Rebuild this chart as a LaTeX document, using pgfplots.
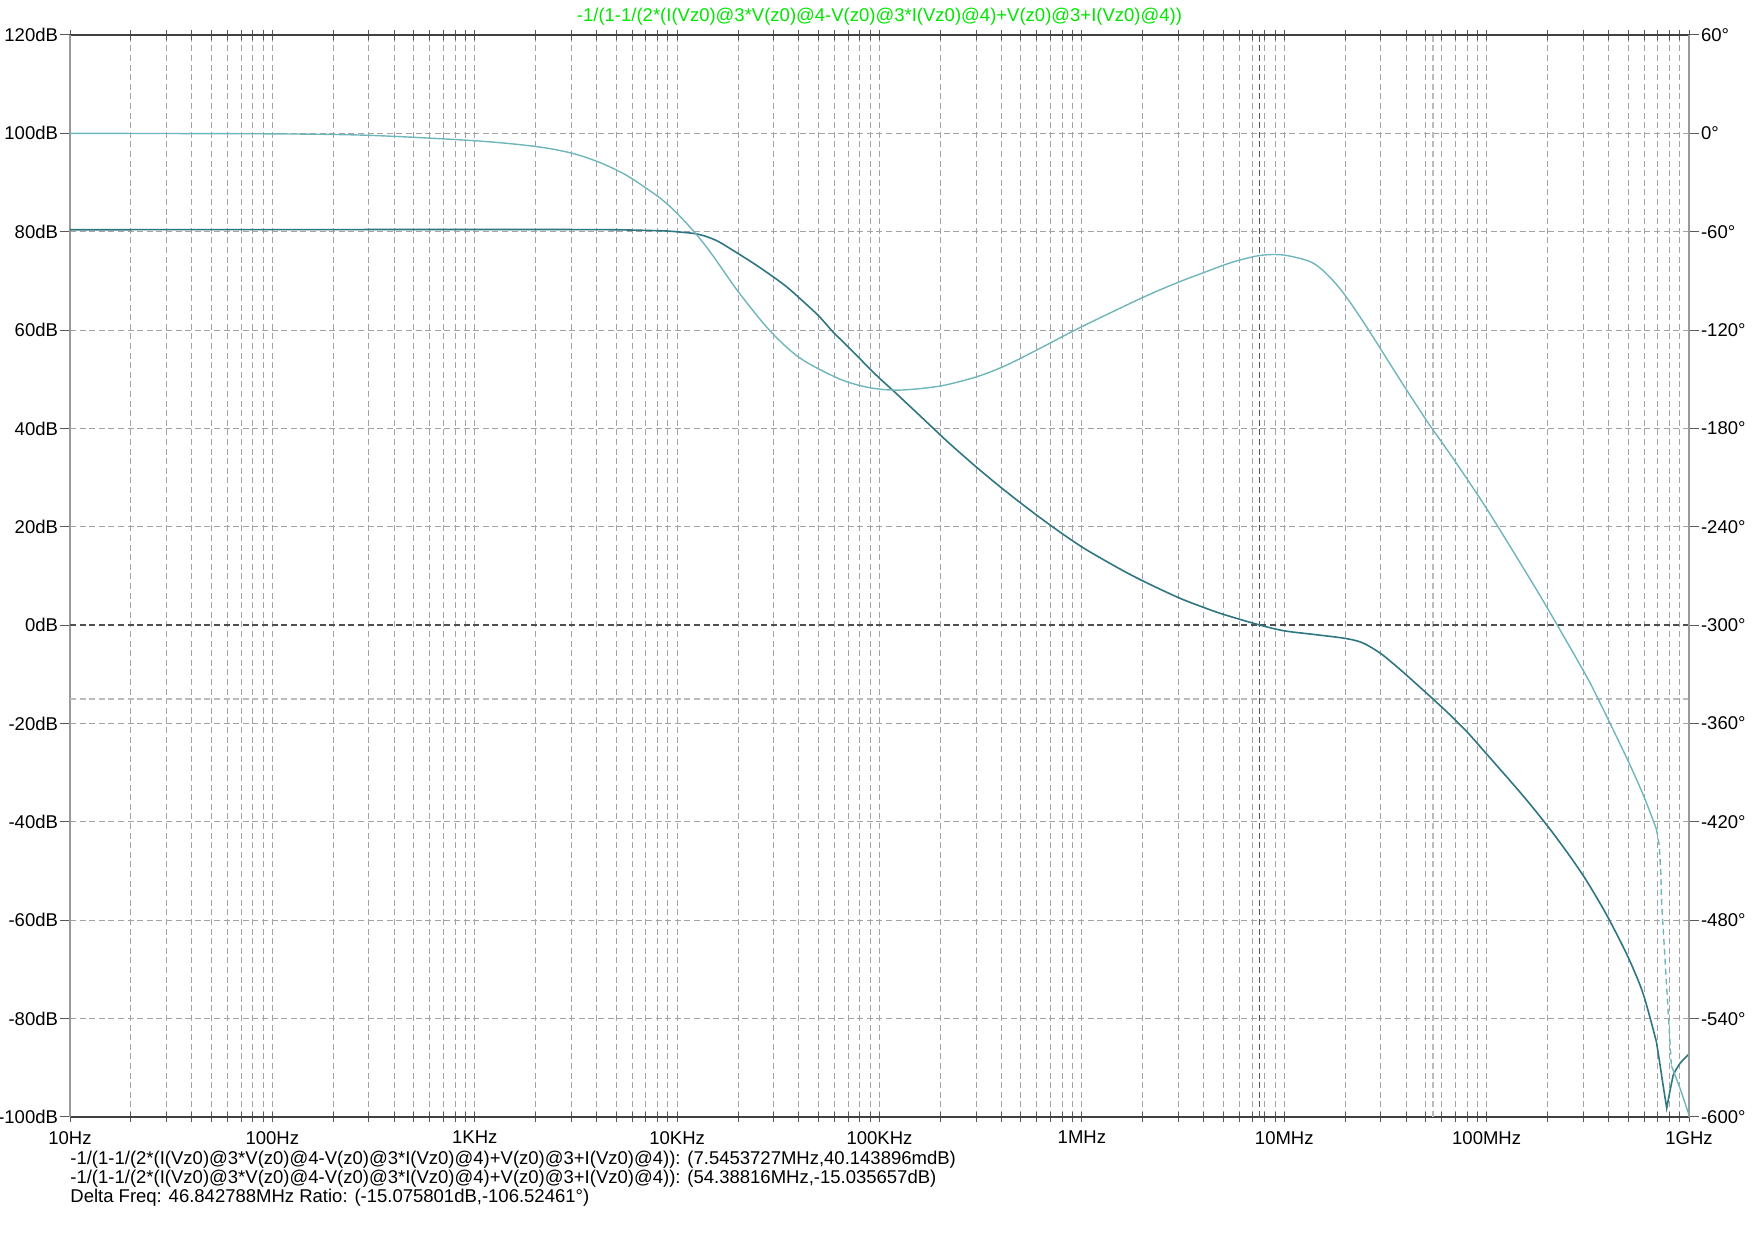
\documentclass[border=0pt]{standalone}
\usepackage{pgfplots}
\pgfplotsset{compat=1.18}
\usepackage{fontspec}
\setmainfont{Liberation Sans}

\definecolor{magcol}{HTML}{2F7681}
\definecolor{phcol}{HTML}{6FB6BB}
\definecolor{titlegreen}{HTML}{00E600}
\definecolor{gridgray}{HTML}{A4A4A4}
\definecolor{cur1}{HTML}{505050}
\definecolor{cur2}{HTML}{BBBBBB}

\begin{document}
\begin{tikzpicture}[font=\fontsize{9.25}{10}\selectfont]
\begin{axis}[
  name=mag,
  scale only axis, width=809.5pt, height=541pt,
  xmode=log, xmin=10, xmax=1e9,
  ymin=-100, ymax=120,
  separate axis lines,
  tick align=center,
  tick style={draw=black!65, line width=0.5pt},
  major tick length=5pt, minor tick length=5pt,
  xtick={1e1,1e2,1e3,1e4,1e5,1e6,1e7,1e8,1e9},
  minor xtick={2e1,3e1,4e1,5e1,6e1,7e1,8e1,9e1,
               2e2,3e2,4e2,5e2,6e2,7e2,8e2,9e2,
               2e3,3e3,4e3,5e3,6e3,7e3,8e3,9e3,
               2e4,3e4,4e4,5e4,6e4,7e4,8e4,9e4,
               2e5,3e5,4e5,5e5,6e5,7e5,8e5,9e5,
               2e6,3e6,4e6,5e6,6e6,7e6,8e6,9e6,
               2e7,3e7,4e7,5e7,6e7,7e7,8e7,9e7,
               2e8,3e8,4e8,5e8,6e8,7e8,8e8,9e8},
  xticklabels={10Hz,100Hz,1KHz,10KHz,100KHz,1MHz,10MHz,100MHz,1GHz},
  xtick pos=both,
  xticklabel style={yshift=-1.1pt},
  ytick={-100,-80,...,120},
  yticklabels={-100dB,-80dB,-60dB,-40dB,-20dB,0dB,20dB,40dB,60dB,80dB,100dB,120dB},
  ytick pos=left,
  y tick style={xshift=-2.5pt},
  xmajorgrids, xminorgrids, ymajorgrids,
  major grid style={gridgray, line width=0.5pt, dash pattern=on 3pt off 1.8pt, xshift=0pt},
  minor grid style={gridgray, line width=0.5pt, dash pattern=on 3pt off 1.8pt},
  x axis line style={draw=black!75, line width=0.6pt},
  y axis line style={draw=black!40, line width=1.2pt},
]
% cursor 2
\addplot[cur2, line width=1pt, dash pattern=on 3pt off 1.8pt] coordinates {(5.438816e7,-100) (5.438816e7,120)};
\addplot[cur2, line width=1pt, dash pattern=on 3pt off 1.8pt] coordinates {(10,-15.035657) (1e9,-15.035657)};
% cursor 1
\addplot[cur1, line width=0.6pt, dash pattern=on 3pt off 1.8pt] coordinates {(7.5453727e6,-100) (7.5453727e6,120)};
\addplot[cur1, line width=0.6pt, dash pattern=on 3pt off 1.8pt] coordinates {(10,0.04) (1e9,0.04)};
% magnitude
\addplot[magcol, line width=0.8pt, smooth, tension=0.5] coordinates {
  (10,80.4) (1000,80.45) (4160,80.42) (6500,80.3) (8870,80.14) (10500,79.9)
  (12300,79.6) (14000,79.0) (16000,78.0) (18900,76.2) (24000,73.5) (29900,70.8)
  (35000,68.7) (40500,66.4) (50000,62.9) (59000,59.6) (70000,56.6) (86300,52.8)
  (100000,50.2) (116000,47.8) (150000,43.5) (188000,39.7) (223000,36.85)
  (300000,32.2) (401000,27.9) (530000,24.0) (700000,20.3) (1e6,15.9)
  (1.5e6,11.7) (2e6,9.0) (3e6,5.6) (4e6,3.6) (5e6,2.2) (7.5453727e6,0.04)
  (1e7,-1.15) (1.41e7,-1.9) (2.01e7,-2.7) (2.44e7,-3.6) (2.96e7,-5.6)
  (3.45e7,-7.8) (4.03e7,-10.2) (5.438816e7,-15.04) (6.58e7,-18.2) (8e7,-21.7)
  (1e8,-26.2) (1.5e8,-34.5) (1.98e8,-40.6) (2.5e8,-46.2) (3e8,-50.9)
  (3.5e8,-55.4) (4.06e8,-60.1) (5e8,-67.5) (5.93e8,-74.9) (6.9e8,-84.7)
};
\addplot[magcol, line width=0.8pt] coordinates {
  (6.9e8,-84.7) (7.18e8,-89.2) (7.45e8,-93.6) (7.76e8,-98.2) (8.04e8,-94.8) (8.36e8,-91.4)
};
\addplot[magcol, line width=0.8pt, smooth] coordinates {
  (8.36e8,-91.4) (9.02e8,-89.1) (1e9,-87.2)
};
\end{axis}
\begin{axis}[
  scale only axis, width=809.5pt, height=541pt,
  xmode=log, xmin=10, xmax=1e9,
  ymin=-600, ymax=60,
  hide x axis,
  axis y line*=right,
  tick align=center,
  tick style={draw=black!65, line width=0.5pt},
  major tick length=5pt,
  ytick={-600,-540,...,60},
  yticklabels={-600°,-540°,-480°,-420°,-360°,-300°,-240°,-180°,-120°,-60°,0°,60°},
  y tick style={xshift=2.5pt},
  y axis line style={draw=black!40, line width=1.2pt},
]
% phase
\addplot[phcol, line width=0.7pt, smooth, tension=0.5] coordinates {
  (10,0) (100,-0.3) (300,-1.2) (1000,-4.5) (2000,-8) (3000,-12) (4000,-17)
  (5000,-22.3) (5960,-27.5) (8200,-39.3) (10000,-48.8) (12500,-61.9)
  (15000,-74.5) (20000,-96.4) (28700,-120.3) (40500,-137.1) (63700,-149.9)
  (90000,-155.2) (126000,-156.6) (200000,-154.1) (300000,-148.6)
  (400000,-142.8) (500000,-137.1) (700000,-127.8) (1e6,-117.9) (2e6,-100.1)
  (3e6,-90.8) (3.97e6,-85.1) (5.5e6,-78.7) (7.57e6,-74.5) (9.88e6,-74.2)
  (1.34e7,-78.2) (1.6e7,-85.1) (1.96e7,-97.4) (2.55e7,-118.0) (3.72e7,-150.0)
  (4.95e7,-173.6) (5.44e7,-181.0) (7e7,-200.2) (1e8,-228.9) (1.5e8,-264.1)
  (1.98e8,-288.8) (3e8,-327.6) (3.5e8,-343.3) (4.9e8,-380.5) (5.93e8,-403.3)
  (6.9e8,-424.4)
};
\addplot[phcol, line width=0.7pt, dash pattern=on 3pt off 2pt] coordinates {
  (6.9e8,-424.4) (7.12e8,-434) (7.25e8,-450) (7.33e8,-470) (8.18e8,-568.6)
};
\addplot[phcol, line width=0.7pt, smooth] coordinates {
  (8.18e8,-568.6) (9.02e8,-582.5) (1e9,-598.8)
};
\end{axis}
\node[text=titlegreen, anchor=base, inner sep=0pt] at ([yshift=6.75pt]mag.north) {-1/(1-1/(2*(I(Vz0)@3*V(z0)@4-V(z0)@3*I(Vz0)@4)+V(z0)@3+I(Vz0)@4))};
\node[anchor=base west, inner sep=0pt] at ([yshift=-23.65pt]mag.south west) {-1/(1-1/(2*(I(Vz0)@3*V(z0)@4-V(z0)@3*I(Vz0)@4)+V(z0)@3+I(Vz0)@4)): (7.5453727MHz,40.143896mdB)};
\node[anchor=base west, inner sep=0pt] at ([yshift=-33.3pt]mag.south west) {-1/(1-1/(2*(I(Vz0)@3*V(z0)@4-V(z0)@3*I(Vz0)@4)+V(z0)@3+I(Vz0)@4)): (54.38816MHz,-15.035657dB)};
\node[anchor=base west, inner sep=0pt] at ([yshift=-43pt]mag.south west) {Delta Freq: 46.842788MHz Ratio: (-15.075801dB,-106.52461°)};
\pgfresetboundingbox
\path[use as bounding box] ([xshift=-35pt,yshift=-61.5pt]mag.south west) rectangle ([xshift=32.5pt,yshift=17.5pt]mag.north east);
\end{tikzpicture}
\end{document}
